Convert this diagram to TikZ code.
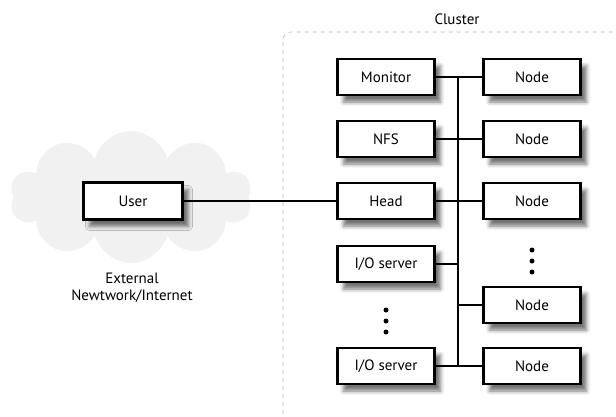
\documentclass[tikz,border=0pt]{standalone}
\usepackage{fontspec}
\setmainfont{PT Sans}
\usetikzlibrary{shapes.symbols,shadows.blur}
\tikzset{
  unit/.style={draw=black, line width=2.2pt, fill=white,
    minimum width=97pt, minimum height=36pt, inner sep=0pt,
    font=\fontsize{15}{17}\selectfont,
    blur shadow={shadow xshift=6pt, shadow yshift=-7pt,
      shadow blur radius=4pt, shadow opacity=55}},
  link/.style={line width=2pt, line cap=rect},
  lbl/.style={font=\fontsize{15}{17}\selectfont, inner sep=0pt},
  dotmark/.style={circle, fill=black, inner sep=0pt, minimum size=5pt},
}
\begin{document}
\begin{tikzpicture}[x=1pt, y=-1pt]
  \useasboundingbox (0,0) rectangle (616,416);

  % external network cloud
  \node[cloud, cloud puffs=10, cloud ignores aspect, fill=gray!11, draw=none,
        minimum width=242pt, minimum height=132pt] (net) at (131,197) {};
  \node[lbl, align=center] (netlbl) at (132,288)
    {External\\[0pt]Newtwork/Internet};

  % cluster frame, running off the right and bottom edges
  \draw[gray!55, line width=0.6pt, dash pattern=on 4pt off 4pt, rounded corners=8pt]
    (283,430) -- (283,32) -- (630,32);
  \node[lbl] (cluster) at (457,19) {Cluster};

  % left column: service machines
  \node[unit] (mon)  at (386,77)  {Monitor};
  \node[unit] (nfs)  at (386,139) {NFS};
  \node[unit] (head) at (386,201) {Head};
  \node[unit] (io1)  at (386,264) {I/O server};
  \node[unit] (io2)  at (386,366) {I/O server};

  % right column: compute nodes
  \node[unit] (n1) at (532,77)  {Node};
  \node[unit] (n2) at (532,139) {Node};
  \node[unit] (n3) at (532,201) {Node};
  \node[unit] (n4) at (532,305) {Node};
  \node[unit] (n5) at (532,366) {Node};

  % user outside the cluster
  \node[unit, minimum width=99pt, minimum height=37pt] (user) at (133,201) {User};

  % ellipses for omitted machines
  \foreach \y [count=\i] in {250,261,272}
    \node[dotmark] (rd\i) at (532,\y) {};
  \foreach \y [count=\i] in {310,321,332}
    \node[dotmark] (ld\i) at (386,\y) {};

  % backbone
  \coordinate (bustop) at (458,77);
  \coordinate (busbot) at (458,366);
  \draw[link] (bustop) -- (busbot);
  \draw[link] (mon.east) -- (n1.west);
  \draw[link] (nfs.east) -- (n2.west);
  \draw[link] (head.east) -- (n3.west);
  \draw[link] (io1.east) -- (io1.east -| bustop);
  \draw[link] (n4.west) -- (n4.west -| bustop);
  \draw[link] (io2.east) -- (n5.west);
  \draw[link] (user.east) -- (head.west);
\end{tikzpicture}
\end{document}
